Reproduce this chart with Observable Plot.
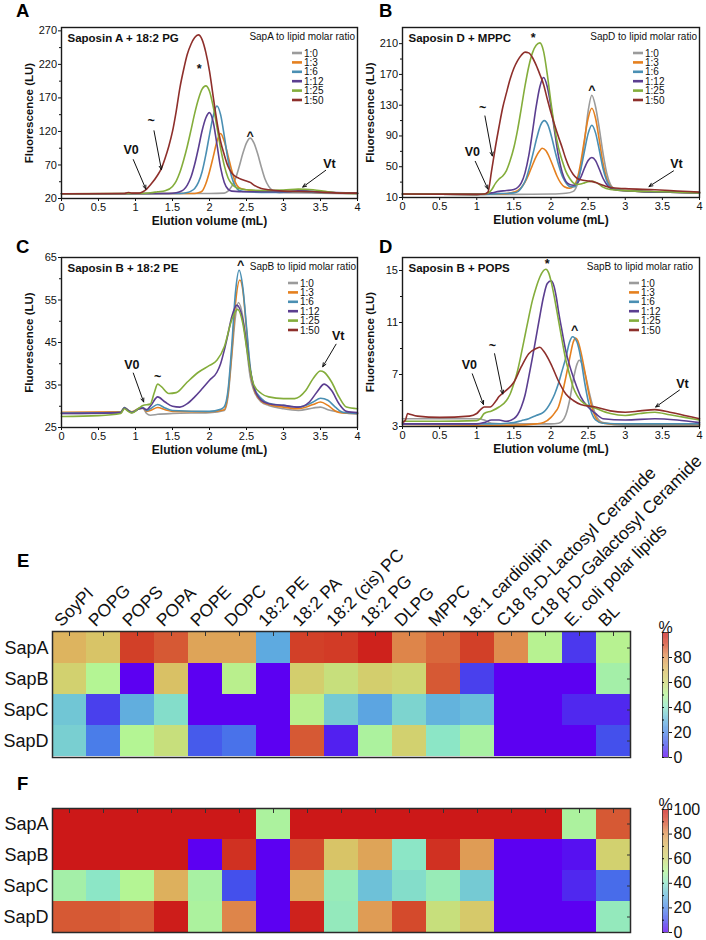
<!DOCTYPE html>
<html><head><meta charset="utf-8">
<script src="https://cdn.jsdelivr.net/npm/d3@7"></script>
<script src="https://cdn.jsdelivr.net/npm/@observablehq/plot@0.6"></script>
<style>
body{margin:0;background:#fff;}
#root{position:relative;width:706px;height:940px;overflow:hidden;background:#fff;font-family:"Liberation Sans",Arial,sans-serif;}
#root svg{position:absolute;}
</style></head><body><div id="root"></div>
<script>
const FONT = "Liberation Sans, Arial, sans-serif";
const ratios = ["1:0","1:3","1:6","1:12","1:25","1:50"];
const ratioColors = ["#9b9b9b","#e5801f","#4a8fb3","#5b3e90","#84ad3b","#8e2f2b"];
const xTicks = [0,0.5,1,1.5,2,2.5,3,3.5,4];

// ---- Panel A: Saposin A + 18:2 PG ----
const A_1_0 = [[0,27],[1,27.5],[2,27.5],[2.2,28],[2.25,31],[2.3,38],[2.35,49],[2.4,67],[2.45,87],[2.5,103],[2.55,110],[2.6,103],[2.65,87],[2.7,67],[2.75,49],[2.8,38],[2.85,32],[2.9,29.5],[3,28.5],[3.5,28],[4,27]];
const A_1_3 = [[0,27],[1.8,27.5],[1.85,28.5],[1.9,31],[1.95,42],[2,60],[2.05,82],[2.1,105],[2.15,117],[2.2,105],[2.25,84],[2.3,62],[2.35,44],[2.4,36],[2.5,33],[2.6,31.5],[2.8,30],[3.2,30],[3.6,28.5],[4,27.5]];
const A_1_6 = [[0,27],[1.6,27.5],[1.7,29],[1.75,31],[1.8,35],[1.85,44],[1.9,60],[1.95,85],[2,115],[2.05,143],[2.1,158],[2.15,145],[2.2,113],[2.25,78],[2.3,52],[2.35,38],[2.4,32],[2.5,30],[2.8,29],[3.2,30],[3.6,28.5],[4,27.5]];
const A_1_12 = [[0,27],[1.45,27.5],[1.55,28.5],[1.6,30],[1.65,33],[1.7,40],[1.75,52],[1.8,71],[1.85,95],[1.9,121],[1.95,140],[2,148],[2.05,134],[2.1,101],[2.15,66],[2.2,44],[2.25,34],[2.3,31],[2.5,30],[3,30],[3.25,32],[3.5,30],[4,28]];
const A_1_25 = [[0,27],[1.1,27.5],[1.2,28.5],[1.3,30],[1.4,31.5],[1.5,38],[1.55,46],[1.6,59],[1.65,77],[1.7,98],[1.75,122],[1.8,147],[1.85,168],[1.9,183],[1.95,188],[2,180],[2.05,157],[2.1,127],[2.15,95],[2.2,69],[2.25,51],[2.3,42],[2.35,37],[2.4,35],[2.5,33],[2.7,32],[3,32.5],[3.2,34],[3.4,33],[3.6,30],[3.8,28],[4,27.5]];
const A_1_50 = [[0,27],[0.85,27.5],[0.9,29],[0.95,28],[1.05,28],[1.1,30],[1.15,34],[1.2,40],[1.3,55],[1.35,65],[1.4,80],[1.45,98],[1.5,120],[1.55,150],[1.6,185],[1.65,212],[1.7,235],[1.75,250],[1.8,260],[1.85,264],[1.9,257],[1.95,238],[2,210],[2.05,172],[2.1,135],[2.15,105],[2.2,85],[2.25,68],[2.3,58],[2.35,53],[2.4,50],[2.5,46],[2.55,44],[2.6,40],[2.7,35],[2.8,33],[3,31],[3.4,30],[3.8,28],[4,28]];
const A_notes = [{label:"*",x:1.86,y:213},{label:"~",x:1.21,y:135},{label:"V0",x:0.94,y:92},{label:"^",x:2.55,y:113},{label:"Vt",x:3.62,y:72}];
const A_arrows = [{x1:1.25,y1:121,x2:1.35,y2:63},{x1:0.97,y1:78,x2:1.14,y2:34},{x1:3.57,y1:62,x2:3.26,y2:37}];

// ---- Panel B: Saposin D + MPPC ----
const B_1_0 = [[0,14.5],[0.5,14.2],[1,14],[1.5,14],[2,14.5],[2.2,15.5],[2.3,18],[2.35,26],[2.4,48],[2.45,82],[2.5,122],[2.55,143],[2.6,128],[2.65,100],[2.7,68],[2.75,42],[2.8,27],[2.85,21.5],[2.9,19.5],[3.2,18],[3.6,17],[4,16]];
const B_1_3 = [[0,14.5],[1,14],[1.3,14.5],[1.4,15],[1.5,17],[1.55,19],[1.6,23],[1.65,30],[1.7,40],[1.75,52],[1.8,63],[1.85,71],[1.88,74],[1.93,71],[1.98,62],[2.03,50],[2.08,38],[2.13,29],[2.18,24],[2.25,22],[2.3,24],[2.35,33],[2.4,55],[2.45,85],[2.5,113],[2.55,126],[2.6,113],[2.65,85],[2.7,55],[2.75,35],[2.8,25],[2.9,20],[3.2,18],[3.6,17],[4,16]];
const B_1_6 = [[0,14.5],[1,14],[1.3,15],[1.5,16],[1.56,18],[1.61,24],[1.66,33],[1.71,49],[1.76,68],[1.81,88],[1.86,104],[1.91,110],[1.96,104],[2.01,88],[2.06,68],[2.11,50],[2.16,36],[2.21,28],[2.26,24],[2.32,24],[2.36,32],[2.4,46],[2.45,70],[2.5,93],[2.55,104],[2.6,94],[2.65,72],[2.7,48],[2.75,32],[2.8,24],[2.9,20],[3.2,18],[3.6,17],[4,16]];
const B_1_12 = [[0,14.5],[1,14],[1.1,14.5],[1.2,16],[1.3,18],[1.4,19],[1.5,20.5],[1.55,23],[1.6,29],[1.65,42],[1.7,64],[1.75,95],[1.8,128],[1.85,154],[1.9,166],[1.95,154],[2,128],[2.05,95],[2.1,64],[2.15,43],[2.2,31],[2.25,27],[2.3,26],[2.35,28],[2.4,36],[2.45,48],[2.5,58],[2.55,62],[2.6,58],[2.65,47],[2.7,35],[2.75,27],[2.8,22],[2.9,19.5],[3.2,18],[3.6,17],[4,16]];
const B_1_25 = [[0,14.5],[1,14],[1.1,14.5],[1.15,15.5],[1.2,20],[1.25,28],[1.3,34],[1.35,38],[1.4,45],[1.45,58],[1.5,75],[1.55,98],[1.6,126],[1.65,155],[1.7,180],[1.75,198],[1.8,208],[1.85,211],[1.9,200],[1.95,170],[2,133],[2.05,100],[2.1,75],[2.15,58],[2.2,44],[2.25,35],[2.3,29],[2.35,27],[2.4,27.5],[2.45,29],[2.5,30.5],[2.55,31],[2.6,30],[2.65,27],[2.7,23.5],[2.8,20.5],[3,19],[3.5,17.5],[4,16]];
const B_1_50 = [[0,14.5],[1,14],[1.1,14.5],[1.15,17],[1.2,45],[1.25,75],[1.3,102],[1.35,127],[1.4,146],[1.45,164],[1.5,178],[1.55,188],[1.6,195],[1.65,199],[1.7,198],[1.75,192],[1.8,182],[1.85,170],[1.9,157],[1.95,138],[2,120],[2.05,104],[2.1,89],[2.15,75],[2.2,60],[2.25,48],[2.3,40],[2.35,35],[2.4,33],[2.5,31.5],[2.55,31],[2.6,29.5],[2.7,26],[2.8,23],[3,21.5],[3.4,20],[3.7,18.5],[4,17]];
const B_notes = [{label:"*",x:1.76,y:217},{label:"~",x:1.08,y:126},{label:"V0",x:0.94,y:69},{label:"^",x:2.55,y:150},{label:"Vt",x:3.69,y:54}];
const B_arrows = [{x1:1.11,y1:116,x2:1.21,y2:64},{x1:0.98,y1:57,x2:1.15,y2:21},{x1:3.65,y1:44.6,x2:3.32,y2:24.3}];

// ---- Panel C: Saposin B + 18:2 PE ----
const C_1_0 = [[0,28.3],[0.8,28.5],[0.85,29.6],[0.9,29],[0.95,28.6],[1.05,29.4],[1.1,29.5],[1.15,28.3],[1.2,27.9],[1.3,28.1],[1.5,28.3],[2,28.5],[2.2,29],[2.25,32.2],[2.3,41.6],[2.35,51],[2.39,54.4],[2.45,51],[2.5,44],[2.55,36.9],[2.6,33.7],[2.7,31],[2.8,30.2],[3,29.4],[3.2,29],[3.4,29.6],[3.5,29.8],[3.6,29.2],[3.8,28.5],[4,28.2]];
const C_1_3 = [[0,28.6],[0.8,28.7],[0.85,29.7],[0.9,29.1],[0.95,28.7],[1.05,29.5],[1.1,29.6],[1.15,28.8],[1.2,29],[1.3,29.7],[1.4,29.2],[1.5,28.8],[2,28.7],[2.2,29.2],[2.25,33],[2.3,42.4],[2.35,54],[2.41,59.7],[2.45,57.4],[2.5,48],[2.55,38.5],[2.6,34.1],[2.7,31.2],[2.8,30.4],[3,29.8],[3.2,29.4],[3.4,30.4],[3.5,31],[3.6,30.2],[3.7,28.9],[3.8,28.4],[4,28.3]];
const C_1_6 = [[0,28.4],[0.8,28.6],[0.85,29.7],[0.9,29.1],[0.95,28.6],[1.05,29.5],[1.1,29.7],[1.15,29],[1.2,29.4],[1.3,30.4],[1.4,29.6],[1.5,29],[2,28.8],[2.15,29.3],[2.2,29.9],[2.25,33.7],[2.3,44],[2.35,56.6],[2.4,62],[2.45,58],[2.5,48.7],[2.55,39.3],[2.6,34.5],[2.7,31.8],[2.8,30.7],[3,30.2],[3.2,29.8],[3.4,31],[3.5,31.9],[3.6,31.4],[3.7,29.8],[3.8,28.6],[4,28.3]];
const C_1_12 = [[0,28.3],[0.8,28.5],[0.85,29.6],[0.9,29],[0.95,28.5],[1.05,29.4],[1.1,29.6],[1.15,29.2],[1.2,30],[1.3,32.2],[1.4,31],[1.5,30],[1.6,29.8],[1.7,30.6],[1.8,32.2],[1.9,34.1],[2,36.1],[2.1,38],[2.15,40],[2.2,43.2],[2.25,47],[2.3,51],[2.37,53.8],[2.45,50.3],[2.5,44.8],[2.55,38.5],[2.6,34.5],[2.7,31.4],[2.8,30.6],[3,30.2],[3.2,29.8],[3.35,31],[3.45,33.3],[3.55,35.2],[3.65,33.7],[3.75,30.6],[3.85,28.8],[4,28.5]];
const C_1_25 = [[0,27.6],[0.5,27.8],[0.8,28.3],[0.85,29.4],[0.9,28.8],[0.95,28.4],[1.05,29.6],[1.1,30.2],[1.2,30.5],[1.25,33],[1.3,35.2],[1.35,34.6],[1.45,33],[1.55,33.2],[1.7,35.7],[1.85,38],[2,39.6],[2.1,40.8],[2.2,44],[2.3,50.3],[2.38,52.8],[2.45,49.5],[2.5,44],[2.55,38.5],[2.6,35],[2.7,33],[2.8,32.2],[3,31.8],[3.15,31.8],[3.3,33.7],[3.4,36.5],[3.5,38.3],[3.55,38],[3.65,35.7],[3.75,32.2],[3.85,29.8],[4,29.4]];
const C_1_50 = [];
const C_notes = [{label:"^",x:2.42,y:63.2},{label:"V0",x:0.95,y:39.6},{label:"~",x:1.3,y:37},{label:"Vt",x:3.74,y:46.5}];
const C_arrows = [{x1:0.97,y1:37.8,x2:1.11,y2:31},{x1:3.71,y1:44.6,x2:3.53,y2:39.3}];

// ---- Panel D: Saposin B + POPS ----
const D_1_0 = [[0,3.6],[0.5,3.6],[1,3.6],[1.1,3.5],[1.2,3.25],[1.5,3.2],[2,3.2],[2.1,3.25],[2.15,3.4],[2.2,3.9],[2.25,5],[2.3,6.6],[2.35,7.8],[2.38,8.1],[2.42,7.8],[2.47,6.8],[2.52,5.5],[2.57,4.4],[2.62,3.7],[2.7,3.3],[3,3.1],[3.5,3.1],[4,3.1]];
const D_1_3 = [[0,3.15],[1,3.1],[1.5,3.1],[1.8,3.2],[1.9,3.3],[2,3.7],[2.05,4.05],[2.1,4.5],[2.15,5.5],[2.2,6.8],[2.25,8.2],[2.3,9.5],[2.33,9.8],[2.36,9.6],[2.4,8.8],[2.45,7.4],[2.5,5.8],[2.55,4.5],[2.6,3.7],[2.65,3.35],[2.8,3.2],[4,3.15]];
const D_1_6 = [[0,3.2],[1,3.2],[1.2,3.2],[1.5,3.3],[1.6,3.45],[1.7,3.6],[1.8,3.85],[1.9,4.1],[2,4.9],[2.05,5.5],[2.1,6.3],[2.15,7.3],[2.2,8.3],[2.25,9.5],[2.29,9.9],[2.35,9.5],[2.4,8.3],[2.45,6.5],[2.5,5],[2.55,4],[2.6,3.5],[2.7,3.25],[3,3.2],[4,3.2]];
const D_1_12 = [[0,3.2],[1,3.2],[1.1,3.3],[1.2,3.5],[1.3,3.5],[1.4,3.4],[1.5,3.6],[1.55,3.9],[1.6,4.5],[1.65,5.4],[1.7,6.8],[1.75,8.3],[1.8,9.9],[1.85,11.5],[1.9,13],[1.95,14],[2,14.2],[2.04,13.8],[2.07,13],[2.1,11.9],[2.15,10.3],[2.2,8.8],[2.25,7.7],[2.3,6.8],[2.35,6],[2.4,5.3],[2.5,4.5],[2.6,4],[2.7,3.6],[3,3.5],[3.4,3.6],[3.7,3.5],[4,3.3]];
const D_1_25 = [[0,3.4],[0.5,3.4],[1,3.45],[1.05,3.6],[1.1,4],[1.2,4.2],[1.3,4.5],[1.4,5],[1.45,5.5],[1.5,6.3],[1.55,7.3],[1.6,8.6],[1.65,10],[1.7,11.4],[1.75,12.7],[1.8,13.7],[1.85,14.5],[1.9,15],[1.93,15.1],[1.97,14.8],[2,14.2],[2.05,12.8],[2.1,11.2],[2.15,9.6],[2.2,8.1],[2.25,7],[2.3,6],[2.35,5.4],[2.4,5],[2.5,4.6],[2.6,4.4],[2.8,4],[3,3.85],[3.2,4],[3.4,4.1],[3.6,3.9],[3.8,3.7],[4,3.5]];
const D_1_50 = [[0,3.3],[0.04,3.5],[0.07,4],[0.1,3.95],[0.2,3.8],[0.5,3.7],[0.9,3.8],[1,4],[1.05,4.3],[1.1,4.5],[1.18,4.5],[1.25,4.9],[1.3,5.3],[1.4,5.8],[1.5,6.4],[1.6,7.6],[1.7,8.6],[1.8,9],[1.85,9.1],[1.9,8.8],[2,7.8],[2.1,6.5],[2.2,5.5],[2.3,5],[2.4,4.7],[2.6,4.5],[2.8,4.2],[3,4.1],[3.2,4.2],[3.4,4.3],[3.6,4.1],[3.8,3.85],[4,3.6]];
const D_notes = [{label:"*",x:1.95,y:15.5},{label:"^",x:2.32,y:10.4},{label:"V0",x:0.9,y:7.7},{label:"~",x:1.21,y:9.2},{label:"Vt",x:3.77,y:6.3}];
const D_arrows = [{x1:0.94,y1:7.05,x2:1.09,y2:4.7},{x1:1.24,y1:8.6,x2:1.35,y2:5.5},{x1:3.73,y1:5.8,x2:3.41,y2:4.5}];

// ---- Heatmaps ----
const lipids = ["SoyPI","POPG","POPS","POPA","POPE","DOPC","18:2 PE","18:2 PA","18:2 (cis) PC","18:2 PG","DLPG","MPPC","18:1 cardiolipin","C18 ß-D-Lactosyl Ceramide","C18 β-D-Galactosyl Ceramide","E. coli polar lipids","BL"];
const saposins = ["SapA","SapB","SapC","SapD"];
const E_SapA = [72,67,92,88,76,76,27,92,93,98,82,86,92,81,51,7,51];
const E_SapB = [62,50,0,68,0,52,0,63,57,63,60,88,8,0,0,0,46];
const E_SapC = [33,8,28,38,0,0,0,52,34,26,36,29,31,0,0,5,5];
const E_SapD = [35,18,50,57,12,16,0,88,4,48,62,40,47,0,0,0,10];
const F_SapA = [100,100,100,100,100,100,48,100,100,100,100,100,100,100,100,48,88];
const F_SapB = [100,100,100,100,0,95,0,90,67,76,40,95,78,0,0,2,62];
const F_SapC = [46,40,50,73,47,10,0,75,43,32,38,43,34,0,0,5,15];
const F_SapD = [88,88,87,99,48,82,0,98,42,78,90,57,65,0,0,0,42];
const heatColors = ["#5c00f2","#4450ec","#4c88e8","#66b8dc","#8ce6c6","#b4f594","#cfd672","#dcbc62","#e09452","#d44a2c","#cc1818"];
const heatScale = {type:"linear", domain:[0,100], interpolate: d3.piecewise(d3.interpolateRgb, heatColors)};

const root = document.getElementById("root");
function place(el, left, top){ el.style.left = left+"px"; el.style.top = top+"px"; root.appendChild(el); }

function linePanel(cfg){
  const rows = cfg.series.flatMap((pts,i)=>pts.map(([x,y])=>({x,y,ratio:ratios[i]})));
  const svg = Plot.plot({
    width: cfg.width, height: cfg.height,
    marginLeft: cfg.ml, marginRight: cfg.mr, marginTop: cfg.mt, marginBottom: cfg.mb,
    style: {fontFamily: FONT, fontSize: "11px", background: "transparent", overflow: "visible", color: "#111"},
    x: {domain: [0,4]},
    y: {domain: cfg.yDomain},
    color: {domain: ratios, range: ratioColors},
    marks: [
      Plot.axisX(xTicks, {tickSize: 3, tickPadding: 2, label: null, tickFormat: d => String(d), fontSize: 11}),
      Plot.axisY(cfg.yMajor, {tickSize: 3, tickPadding: 1.5, label: null, fontSize: 11}),
      Plot.axisY(cfg.yMinor, {tickSize: 2, tickFormat: () => "", label: null}),
      Plot.line(rows, {x:"x", y:"y", z:"ratio", stroke:"ratio", strokeWidth:1.6, curve:"monotone-x"}),
      Plot.frame({stroke:"#1a1a1a", strokeWidth:1.4}),
      Plot.text([cfg.title], {text: d=>d, frameAnchor:"top-left", dx:6, dy:6, fontWeight:"bold", fontSize:11.5}),
      Plot.text(["Elution volume (mL)"], {text: d=>d, frameAnchor:"bottom", dy:26, fontWeight:"bold", fontSize:12}),
      Plot.text(["Fluorescence (LU)"], {text: d=>d, frameAnchor:"left", textAnchor:"middle", rotate:-90, dx:-32, fontWeight:"bold", fontSize:11.5}),
      Plot.arrow(cfg.arrows, {x1:"x1", y1:"y1", x2:"x2", y2:"y2", stroke:"#111", strokeWidth:1, headLength:6, headAngle:45}),
      Plot.text(cfg.notes, {x:"x", y:"y", text:"label", fontWeight:"bold", fontSize:12.5})
    ]
  });
  const right = cfg.width - cfg.mr, top = cfg.mt;
  const g = d3.select(svg).append("g").attr("font-family", FONT).attr("font-size", 10).attr("fill", "#111");
  g.append("text").attr("x", right - cfg.legTitleGap).attr("y", top + 13).attr("text-anchor","end").text(cfg.legendTitle);
  ratios.forEach((r,i)=>{
    const cy = top + 26 + i*9.4;
    g.append("line").attr("x1", right+cfg.legSw).attr("x2", right+cfg.legSw+10).attr("y1", cy).attr("y2", cy)
      .attr("stroke", ratioColors[i]).attr("stroke-width", 2.6);
    g.append("text").attr("x", right+cfg.legSw+12).attr("y", cy).attr("dy","0.35em").attr("text-anchor","start").text(r);
  });
  place(svg, cfg.left, cfg.top);
}

linePanel({left:0, top:0, width:360, height:232, ml:61, mr:3, mt:27, mb:34,
  yDomain:[20,275], yMajor:[20,70,120,170,220,270], yMinor:[45,95,145,195,245],
  series:[A_1_0,A_1_3,A_1_6,A_1_12,A_1_25,A_1_50], notes:A_notes, arrows:A_arrows,
  title:"Saposin A + 18:2 PG", legendTitle:"SapA to lipid molar ratio", legSw:-65, legTitleGap:2});
linePanel({left:353, top:0, width:353, height:232, ml:49, mr:7, mt:27, mb:35,
  yDomain:[10,231], yMajor:[10,50,90,130,170,210], yMinor:[30,70,110,150,190],
  series:[B_1_0,B_1_3,B_1_6,B_1_12,B_1_25,B_1_50], notes:B_notes, arrows:B_arrows,
  title:"Saposin D + MPPC", legendTitle:"SapD to lipid molar ratio", legSw:-66, legTitleGap:2});
linePanel({left:0, top:230, width:360, height:230, ml:61, mr:3, mt:27, mb:33,
  yDomain:[25,65], yMajor:[25,35,45,55,65], yMinor:[30,40,50,60],
  series:[C_1_0,C_1_3,C_1_6,C_1_12,C_1_25,C_1_50], notes:C_notes, arrows:C_arrows,
  title:"Saposin B + 18:2 PE", legendTitle:"SapB to lipid molar ratio", legSw:-69, legTitleGap:1});
linePanel({left:353, top:230, width:353, height:230, ml:49, mr:7, mt:27, mb:34,
  yDomain:[3,16], yMajor:[3,7,11,15], yMinor:[5,9,13],
  series:[D_1_0,D_1_3,D_1_6,D_1_12,D_1_25,D_1_50], notes:D_notes, arrows:D_arrows,
  title:"Saposin B + POPS", legendTitle:"SapB to lipid molar ratio", legSw:-70, legTitleGap:6});

function heatmap(rowsVals, cfg){
  const cells = saposins.flatMap((s,i)=>lipids.map((l,j)=>({sap:s, lipid:l, value:rowsVals[i][j]})));
  const marks = [
    Plot.cell(cells, {x:"lipid", y:"sap", fill:"value"}),
    Plot.frame({stroke:"#2a2a2a", strokeWidth:1.5}),
    Plot.axisX({anchor:"top", tickSize:4, dy:4, tickFormat:()=>"", label:null, stroke:"#333"}),
    Plot.axisY({anchor:"right", tickSize:4, dx:-4, tickFormat:()=>"", label:null, stroke:"#333"}),
    Plot.text(saposins, {y:d=>d, text:d=>d, frameAnchor:"left", textAnchor:"end", dx:-4, fontSize:18})
  ];
  if (cfg.header) marks.push(Plot.text(lipids, {x:d=>d, text:d=>d, frameAnchor:"top", rotate:-45, textAnchor:"start", lineAnchor:"bottom", dx:-8, dy:-4, fontSize:17.5}));
  const svg = Plot.plot({
    width:706, height:cfg.height, marginLeft:52, marginRight:76, marginTop:cfg.mt, marginBottom:cfg.mb,
    style:{fontFamily:FONT, fontSize:"16px", background:"transparent", overflow:"visible", color:"#111"},
    x:{domain:lipids, padding:0}, y:{domain:saposins, padding:0},
    color: heatScale,
    marks
  });
  place(svg, 0, cfg.top);
}
heatmap([E_SapA,E_SapB,E_SapC,E_SapD], {top:440, height:320, mt:191, mb:3, header:true});
heatmap([F_SapA,F_SapB,F_SapC,F_SapD], {top:800, height:140, mt:8, mb:8, header:false});

function colorbar(cfg){
  const steps = d3.range(0,100,0.5);
  const svg = Plot.plot({
    width:66, height:cfg.height, marginLeft:22, marginRight:38, marginTop:cfg.mt, marginBottom:cfg.mb,
    style:{fontFamily:FONT, fontSize:"16px", background:"transparent", overflow:"visible", color:"#111"},
    y:{domain:[0,100]}, color: heatScale,
    marks:[
      Plot.rect(steps, {y1:d=>d, y2:d=>d+0.5, fill:d=>d+0.25}),
      Plot.frame({stroke:"#333", strokeWidth:0.8}),
      Plot.axisY(cfg.ticks, {anchor:"right", tickSize:3, tickPadding:2, label:null, fontSize:16}),
      Plot.axisY(d3.range(0,101,10), {anchor:"left", tickSize:-2, tickFormat:()=>"", label:null}),
      Plot.text(["%"], {text:d=>d, frameAnchor:"top", dy:-11, fontSize:16})
    ]
  });
  place(svg, 640, cfg.top);
}
colorbar({top:600, height:170, mt:32, mb:13, ticks:[0,20,40,60,80]});
colorbar({top:780, height:160, mt:29, mb:8, ticks:[0,20,40,60,80,100]});

// panel letters
const ov = d3.create("svg").attr("width",706).attr("height",940).style("left","0px").style("top","0px").style("pointer-events","none");
[["A",16,17],["B",379,17],["C",16,253],["D",379,253],["E",17,567],["F",17,790]].forEach(([t,x,y])=>{
  ov.append("text").attr("x",x).attr("y",y).attr("font-family",FONT).attr("font-weight","bold").attr("font-size",18.5).text(t);
});
root.appendChild(ov.node());
</script></body></html>
